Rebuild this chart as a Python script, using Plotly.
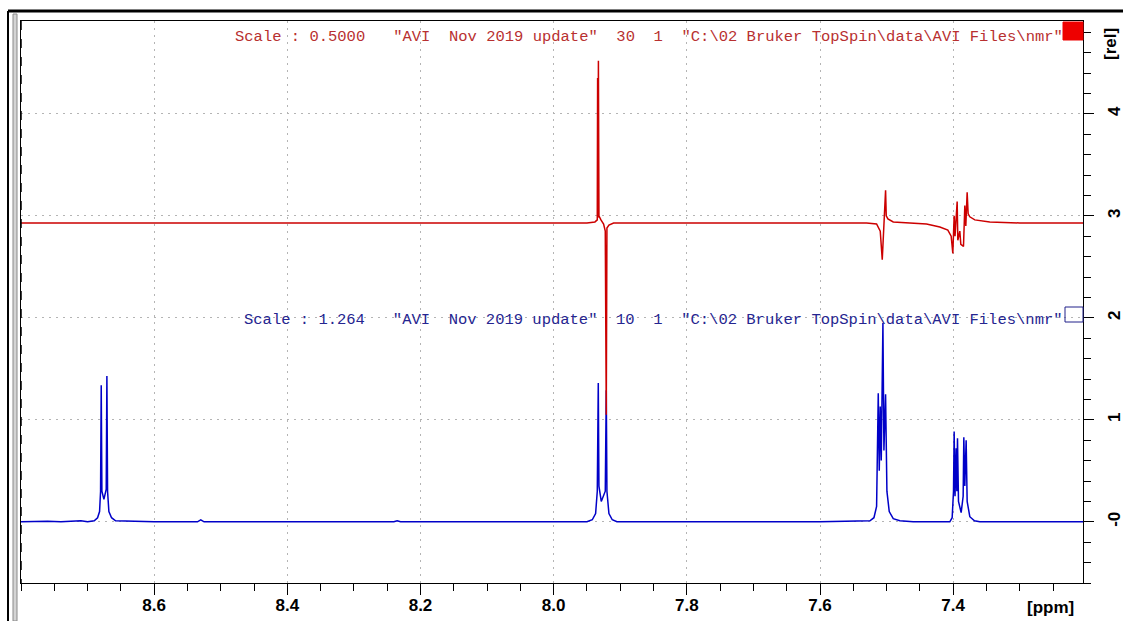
import plotly.graph_objects as go

# ---- spectrum data (ppm, relative intensity) ----
blue_ppm = [8.80, 8.76, 8.74, 8.71, 8.70, 8.690, 8.685, 8.682, 8.6805, 8.6795, 8.6785,
            8.6755, 8.672, 8.671, 8.670, 8.668, 8.664, 8.658, 8.60, 8.535, 8.53, 8.525,
            8.40, 8.24, 8.235, 8.23, 8.10, 7.95, 7.942, 7.937, 7.9345, 7.9330, 7.9320,
            7.9285, 7.9225, 7.9210, 7.9200, 7.917, 7.912, 7.905, 7.60, 7.525, 7.519,
            7.515, 7.5125, 7.5110, 7.5095, 7.5080, 7.5055, 7.5040, 7.5015, 7.4995,
            7.496, 7.49, 7.48, 7.46, 7.405, 7.4015, 7.3995, 7.3985, 7.3972, 7.3955,
            7.3945, 7.3935, 7.3920, 7.3880, 7.3850, 7.3840, 7.3825, 7.3805, 7.3790,
            7.375, 7.368, 7.36, 7.23, 7.205]
blue_int = [0.0, 0.005, 0.0, 0.01, 0.0, 0.01, 0.04, 0.10, 0.30, 1.34, 0.30,
            0.22, 0.32, 1.43, 0.30, 0.10, 0.04, 0.01, 0.0, 0.0, 0.02, 0.0,
            0.0, 0.0, 0.01, 0.0, 0.0, 0.0, 0.02, 0.08, 0.30, 1.36, 0.35,
            0.20, 0.30, 1.29, 0.30, 0.08, 0.02, 0.0, 0.0, 0.01, 0.04,
            0.15, 1.26, 0.50, 1.13, 0.60, 1.95, 0.70, 1.25, 0.30,
            0.10, 0.03, 0.01, 0.0, 0.0, 0.04, 0.30, 0.885, 0.25, 0.72,
            0.30, 0.82, 0.20, 0.09, 0.25, 0.83, 0.35, 0.80, 0.20,
            0.05, 0.01, 0.0, 0.0, 0.0]

red_ppm = [8.80, 7.95, 7.938, 7.9345, 7.9340, 7.9335, 7.9328, 7.9320, 7.929, 7.925,
           7.9225, 7.9210, 7.9200, 7.917, 7.91, 7.53, 7.515, 7.5095, 7.5065, 7.5045,
           7.5025, 7.5015, 7.5005, 7.498, 7.49, 7.47, 7.44, 7.42, 7.408, 7.403,
           7.4005, 7.3995, 7.3985, 7.3972, 7.3940, 7.3930, 7.3900, 7.3885, 7.3845,
           7.3825, 7.3810, 7.3790, 7.3775, 7.375, 7.3675, 7.345, 7.30, 7.205]
red_int = [2.93, 2.93, 2.94, 2.96, 4.35, 2.98, 4.52, 3.00, 2.96, 2.92,
           2.85, 1.05, 2.88, 2.91, 2.93, 2.93, 2.92, 2.85, 2.57, 2.90,
           3.05, 3.25, 3.00, 2.97, 2.94, 2.93, 2.92, 2.89, 2.86, 2.80,
           2.63, 2.82, 3.00, 2.80, 3.14, 2.76, 2.85, 2.72, 2.70,
           3.10, 2.90, 3.23, 3.02, 2.99, 2.96, 2.94, 2.93, 2.93]

x_ticks = [8.6, 8.4, 8.2, 8.0, 7.8, 7.6, 7.4]
x_tick_text = ["8.6", "8.4", "8.2", "8.0", "7.8", "7.6", "7.4"]
y_ticks = [0, 1, 2, 3, 4]
y_tick_text = ["-0", "1", "2", "3", "4"]

red_label = 'Scale : 0.5000   "AVI  Nov 2019 update"  30  1  "C:\\02 Bruker TopSpin\\data\\AVI Files\\nmr"'
blue_label = 'Scale : 1.264   "AVI  Nov 2019 update"  10  1  "C:\\02 Bruker TopSpin\\data\\AVI Files\\nmr"'

RED = "#cc0000"
BLUE = "#0000c8"

# ---- page geometry (pixels) ----
W, H = 1123, 621
ML, MR, MT, MB = 21, 40, 21, 38
PW, PH = W - ML - MR, H - MT - MB


def px(x):
    return (x - ML) / PW


def py(y):
    return (H - MB - y) / PH


fig = go.Figure()
fig.add_trace(go.Scatter(x=blue_ppm, y=blue_int, mode="lines",
                         line=dict(color=BLUE, width=1.5), hoverinfo="skip"))
fig.add_trace(go.Scatter(x=red_ppm, y=red_int, mode="lines",
                         line=dict(color=RED, width=1.5), hoverinfo="skip"))

tick_font = dict(family="Liberation Sans", size=17, color="black", weight=700)
GRID = dict(showgrid=True, gridcolor="#b4b4b4", griddash="2px,5px", gridwidth=1)

fig.update_layout(
    width=W, height=H,
    margin=dict(l=ML, r=MR, t=MT, b=MB, autoexpand=False),
    paper_bgcolor="white", plot_bgcolor="white",
    showlegend=False,
    xaxis=dict(
        range=[8.80, 7.205], autorange=False, automargin=False,
        tickmode="array", tickvals=x_ticks, ticktext=x_tick_text,
        ticks="outside", ticklen=11, tickwidth=1, tickcolor="black",
        tickfont=tick_font, ticklabelstandoff=-4,
        minor=dict(tickmode="linear", tick0=0, dtick=0.05, ticks="outside",
                   ticklen=7, tickcolor="black", showgrid=False),
        showline=True, linecolor="black", linewidth=1, mirror=True,
        zeroline=False, **GRID,
    ),
    yaxis=dict(
        range=[-0.6, 4.91], autorange=False, side="right", automargin=False,
        tickmode="array", tickvals=y_ticks, ticktext=y_tick_text,
        tickangle=-90,
        ticks="outside", ticklen=10, tickwidth=1, tickcolor="black",
        tickfont=tick_font, ticklabelstandoff=6,
        minor=dict(tickmode="linear", tick0=0, dtick=0.2, ticks="outside",
                   ticklen=7, tickcolor="black", showgrid=False),
        showline=True, linecolor="black", linewidth=1, mirror=True,
        zeroline=False, **GRID,
    ),
)

# window frame around the plot
shapes = [
    dict(type="line", xref="paper", yref="paper", x0=px(8), x1=px(W), y0=py(11), y1=py(11),
         line=dict(color="black", width=3)),
    dict(type="line", xref="paper", yref="paper", x0=px(8), x1=px(8), y0=py(11), y1=py(H),
         line=dict(color="black", width=2)),
    dict(type="rect", xref="paper", yref="paper", x0=px(13), x1=px(17), y0=py(14), y1=py(H),
         fillcolor="#d4d4d4", line=dict(color="#8a8a8a", width=1)),
    dict(type="line", xref="paper", yref="paper", x0=px(21), x1=px(21), y0=py(21), y1=py(583),
         line=dict(color="black", width=1.5, dash="dash")),
    # series markers at the right end of each label
    dict(type="rect", xref="paper", yref="paper", x0=px(1063), x1=px(1083), y0=py(40), y1=py(22),
         fillcolor="#ee0000", line=dict(color="#ee0000", width=1)),
    dict(type="rect", xref="paper", yref="paper", x0=px(1065), x1=px(1083), y0=py(322), y1=py(307),
         fillcolor="rgba(0,0,0,0)", line=dict(color="#20208a", width=1)),
]
fig.update_layout(shapes=shapes)

label_font = dict(family="Liberation Mono", size=15.5)
fig.add_annotation(xref="paper", yref="paper", x=px(1065), y=py(37), text=red_label,
                   showarrow=False, xanchor="right", yanchor="middle",
                   font=dict(color="#b83030", **label_font))
fig.add_annotation(xref="paper", yref="paper", x=px(1065), y=py(320), text=blue_label,
                   showarrow=False, xanchor="right", yanchor="middle",
                   font=dict(color="#252590", **label_font))

# axis unit labels
fig.add_annotation(xref="paper", yref="paper", x=px(1050), y=py(607), text="[ppm]",
                   showarrow=False, xanchor="center", yanchor="middle", font=tick_font)
fig.add_annotation(xref="paper", yref="paper", x=px(1110), y=py(44), text="[rel]",
                   showarrow=False, xanchor="center", yanchor="middle", textangle=-90,
                   font=tick_font)

fig.write_html("out.html")
